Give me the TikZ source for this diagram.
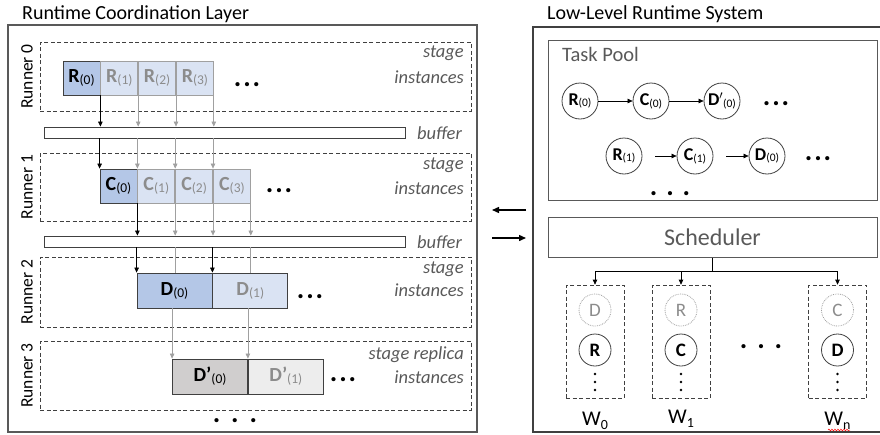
\documentclass[tikz,border=0pt]{standalone}
\usepackage{fontspec}
\setmainfont{Carlito}
\usetikzlibrary{arrows.meta,decorations.pathmorphing}
\definecolor{dblue}{HTML}{B4C7E7}
\definecolor{lblue}{HTML}{DAE3F3}
\definecolor{gtext}{HTML}{8C8C8C}
\definecolor{gline}{HTML}{A0A0A0}
\definecolor{dgray}{HTML}{D0CECE}
\definecolor{lgray}{HTML}{EDEDED}
\definecolor{bord}{HTML}{404040}
\definecolor{lab}{HTML}{595959}
\newcommand{\fs}[1]{\fontsize{#1}{#1}\selectfont}
\newcommand{\stg}[2]{{\fs{20}\bfseries #1}\raisebox{-0.4ex}{\fs{13.5}#2}}
\newcommand{\ctg}[2]{{\fs{18}\bfseries #1}\raisebox{-0.4ex}{\fs{11.5}#2}}
\begin{document}
\begin{tikzpicture}[x=1pt,y=-1pt,
  panel/.style={draw=lab, line width=1.2pt, inner sep=0pt},
  runner/.style={draw=bord, dash pattern=on 4pt off 2.5pt, line width=0.7pt, inner sep=0pt},
  runlab/.style={rotate=90, font=\fs{17.5}, text=black},
  stlab/.style={anchor=east, font=\fs{18.5}\itshape, text=lab, inner sep=0pt},
  cellD/.style={draw=bord, fill=dblue, line width=0.8pt, minimum width=37pt, minimum height=34pt, inner sep=0pt},
  cellL/.style={draw=gline, fill=lblue, text=gtext, line width=0.8pt, minimum width=37pt, minimum height=34pt, inner sep=0pt},
  wideD/.style={draw=bord, line width=0.8pt, minimum width=75pt, minimum height=35pt, inner sep=0pt},
  buf/.style={draw=bord, fill=white, line width=0.8pt, minimum width=361pt, minimum height=11pt, inner sep=0pt},
  hdots/.style={font=\fs{28}\bfseries, inner sep=0pt},
  blk/.style={-{Triangle[length=5pt,width=4.5pt]}, black, line width=0.7pt},
  gry/.style={-{Triangle[length=5pt,width=4.5pt]}, gline, line width=0.7pt},
  gryline/.style={gline, line width=0.7pt},
  task/.style={circle, draw=bord, line width=0.8pt, minimum size=36pt, inner sep=0pt},
  wtask/.style={circle, draw=bord, line width=0.8pt, minimum size=32pt, inner sep=0pt, font=\fs{19}\bfseries},
  wghost/.style={circle, draw=gline, densely dotted, line width=0.8pt, minimum size=32pt, inner sep=0pt, font=\fs{19}, text=gtext},
  worker/.style={draw=bord, dash pattern=on 4pt off 2.5pt, line width=0.7pt, minimum width=58pt, minimum height=113pt, inner sep=0pt},
  box/.style={draw=lab, line width=1pt, inner sep=0pt},
  big/.style={-{Triangle[length=7pt,width=6pt]}, black, line width=1.4pt}
]
\useasboundingbox (0,0) rectangle (880,434);

% ---------------- left panel
\node[panel, minimum width=469pt, minimum height=407pt] (lpanel) at (242.5,228.5) {};
\node[anchor=base west, font=\fs{20}, inner sep=0pt] (ltitle) at (22,19.5) {Runtime Coordination Layer};

\node[runner, minimum width=431pt, minimum height=69pt] (run0) at (255.5,76.5) {};
\node[runner, minimum width=431pt, minimum height=68pt] (run1) at (255.5,187) {};
\node[runner, minimum width=431pt, minimum height=70pt] (run2) at (255.5,292) {};
\node[runner, minimum width=431pt, minimum height=69pt] (run3) at (255.5,375.5) {};

\node[runlab] (rl0) at (27,76.5) {Runner 0};
\node[runlab] (rl1) at (27,187) {Runner 1};
\node[runlab] (rl2) at (27,292) {Runner 2};
\node[runlab] (rl3) at (27,375.5) {Runner 3};

\node[stlab] (s0a) at (464,53) {stage};
\node[stlab] (s0b) at (464,77) {instances};
\node[stlab] (s1a) at (464,165) {stage};
\node[stlab] (s1b) at (464,188) {instances};
\node[stlab] (s2a) at (464,269) {stage};
\node[stlab] (s2b) at (464,290) {instances};
\node[stlab] (s3a) at (464,355) {stage replica};
\node[stlab] (s3b) at (464,377) {instances};

% runner 0 cells
\node[cellD] (R0) at (81.5,78) {\stg{R}{(0)}};
\node[cellL, anchor=west] (R1) at (R0.east) {\stg{R}{(1)}};
\node[cellL, anchor=west] (R2) at (R1.east) {\stg{R}{(2)}};
\node[cellL, anchor=west] (R3) at (R2.east) {\stg{R}{(3)}};
\node[hdots] (Rd) at (247,85) {.\hspace{2pt}.\hspace{2pt}.};

% buffer 1
\node[buf] (b1) at (224.5,132.5) {};
\node[stlab, anchor=west] (b1l) at (417,133) {buffer};

% runner 1 cells
\node[cellD] (C0) at (118.5,186) {\stg{C}{(0)}};
\node[cellL, anchor=west] (C1) at (C0.east) {\stg{C}{(1)}};
\node[cellL, anchor=west] (C2) at (C1.east) {\stg{C}{(2)}};
\node[cellL, anchor=west] (C3) at (C2.east) {\stg{C}{(3)}};
\node[hdots] (Cd) at (279,191) {.\hspace{2pt}.\hspace{2pt}.};

% buffer 2
\node[buf] (b2) at (224.5,241.5) {};
\node[stlab, anchor=west] (b2l) at (417,242) {buffer};

% runner 2 cells
\node[wideD, fill=dblue] (D0) at (174.5,290.5) {\stg{D}{(0)}};
\node[wideD, fill=lblue, text=gtext, anchor=west] (D1) at (D0.east) {\stg{D}{(1)}};
\node[hdots] (Dd) at (310,297) {.\hspace{2pt}.\hspace{2pt}.};

% runner 3 cells
\node[wideD, fill=dgray] (E0) at (210,376.5) {\stg{D'}{(0)}};
\node[wideD, fill=lgray, text=gtext, anchor=west] (E1) at (E0.east) {\stg{D’}{(1)}};
\node[hdots] (Ed) at (343,380) {.\hspace{2pt}.\hspace{2pt}.};

\node[hdots] (ld) at (235,421) {.\hspace{11pt}.\hspace{11pt}.};

% arrows runner0 -> buffer1
\draw[blk] (R0.south east) -- (R0.south east |- b1.north);
\draw[gry] (R1.south east) -- (R1.south east |- b1.north);
\draw[gry] (R2.south east) -- (R2.south east |- b1.north);
\draw[gry] (R3.south east) -- (R3.south east |- b1.north);
% buffer1 -> runner1
\draw[blk] (b1.south -| C0.north west) -- (C0.north west);
\draw[gry] (b1.south -| C1.north west) -- (C1.north west);
\draw[gry] (b1.south -| C2.north west) -- (C2.north west);
\draw[gry] (b1.south -| C3.north west) -- (C3.north west);
% runner1 -> buffer2
\draw[blk] (C0.south east) -- (C0.south east |- b2.north);
\draw[gry] (C1.south east) -- (C1.south east |- b2.north);
\draw[gry] (C2.south east) -- (C2.south east |- b2.north);
\draw[gry] (C3.south east) -- (C3.south east |- b2.north);
% buffer2 -> runner2
\draw[blk] (b2.south -| D0.north west) -- (D0.north west);
\draw[blk] (b2.south -| D1.north west) -- (D1.north west);
\draw[gryline] (b2.south -| C1.south east) -- (C1.south east |- D0.north);
\draw[gryline] (b2.south -| C3.south east) -- (C3.south east |- D1.north);
% runner2 -> runner3
\draw[gry] (E0.north west |- D0.south) -- (E0.north west);
\draw[gry] (E1.north west |- D1.south) -- (E1.north west);

% ---------------- arrows between panels
\coordinate (aL1) at (526,210);
\coordinate (aL2) at (492,210);
\coordinate (aR1) at (492,238);
\coordinate (aR2) at (526,238);
\draw[big] (aL1) -- (aL2);
\draw[big] (aR1) -- (aR2);

% ---------------- right panel
\draw[draw=bord, line width=1.2pt] (882,27) -- (533,27) -- (533,432) -- (882,432);
\node[anchor=base west, font=\fs{20}, inner sep=0pt] (rtitle) at (547,19.5) {Low-Level Runtime System};

\node[box, minimum width=329pt, minimum height=160pt] (pool) at (712.5,120) {};
\node[anchor=west, font=\fs{20.5}, text=lab, inner sep=0pt] (pooll) at (562,54) {Task Pool};

\node[task] (tR0) at (580,101) {\ctg{R}{(0)}};
\node[task] (tC0) at (651,101) {\ctg{C}{(0)}};
\node[task] (tD0p) at (722,101) {\ctg{D$'$}{(0)}};
\node[hdots] (td1) at (776,104) {.\hspace{2pt}.\hspace{2pt}.};
\node[task] (tR1) at (624,156) {\ctg{R}{(1)}};
\node[task] (tC1) at (695,156) {\ctg{C}{(1)}};
\node[task] (tD0) at (767,156) {\ctg{D}{(0)}};
\node[hdots] (td2) at (818,159) {.\hspace{2pt}.\hspace{2pt}.};
\node[hdots] (td3) at (670,194) {.\hspace{9pt}.\hspace{9pt}.};

\draw[blk] (tR0) -- (tC0);
\draw[blk] (tC0) -- (tD0p);
\draw[blk, shorten <=13pt] (tR1) -- (tC1);
\draw[blk, shorten <=13pt] (tC1) -- (tD0);

\node[box, minimum width=329pt, minimum height=40pt, font=\fs{24}, text=lab] (sched) at (712.5,237) {Scheduler};

\node[worker] (W0) at (595,341.5) {};
\node[worker] (W1) at (681,341.5) {};
\node[worker] (Wn) at (837.5,341.5) {};

\draw[black, line width=0.7pt] (sched.south) -- ++(0,14) coordinate (jn);
\draw[blk] (jn) -| (W0.north);
\draw[blk] (jn) -| (W1.north);
\draw[blk] (jn) -| (Wn.north);

\node[wghost] (g0) at (595,310) {D};
\node[wtask] (w0) at (595,350) {R};
\node[wghost] (g1) at (681,310) {R};
\node[wtask] (w1) at (681,350) {C};
\node[wghost] (gn) at (837.5,310) {C};
\node[wtask] (wn) at (837.5,350) {D};
\foreach \xx in {595,681,837.5} {
  \foreach \yy in {374,382,390} \fill (\xx,\yy) circle (1.4);
}
\node[hdots] (wd) at (761,347) {.\hspace{10pt}.\hspace{10pt}.};

\node[font=\fs{21}] (W0l) at (595,421) {W\raisebox{-0.4ex}{\fs{14}0}};
\node[font=\fs{21}] (W1l) at (681,419) {W\raisebox{-0.4ex}{\fs{14}1}};
\node[font=\fs{21}] (Wnl) at (837.5,421) {W\raisebox{-0.4ex}{\fs{14}n}};
\draw[red, line width=0.5pt, decorate, decoration={snake, amplitude=0.9pt, segment length=3pt}] (828,430) -- (850,430);
\end{tikzpicture}
\end{document}
